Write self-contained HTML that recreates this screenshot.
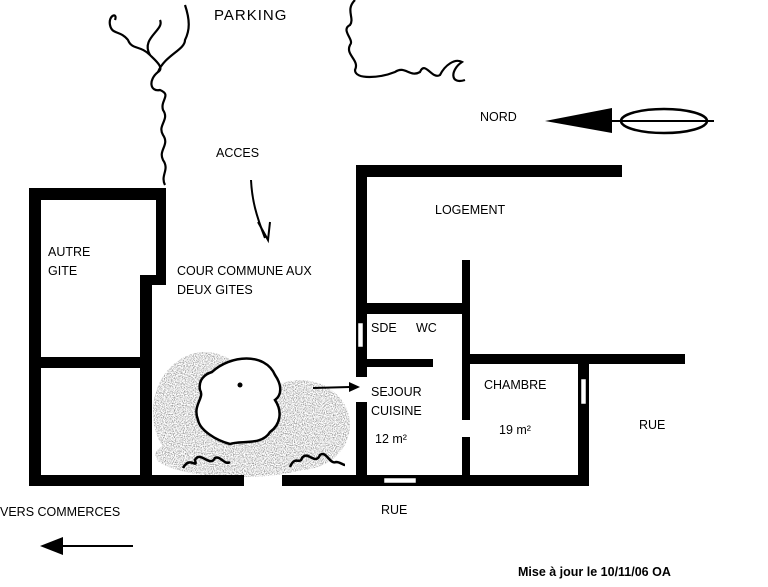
<!DOCTYPE html>
<html><head><meta charset="utf-8"><style>
body{margin:0;background:#fff;width:768px;height:587px;overflow:hidden}
svg{position:absolute;left:0;top:0}
text{font-family:"Liberation Sans",sans-serif;font-size:12.5px;fill:#000}
</style></head><body>
<svg width="768" height="587" viewBox="0 0 768 587">
<defs>
<filter id="n" filterUnits="userSpaceOnUse" x="0" y="0" width="768" height="587"><feTurbulence type="fractalNoise" baseFrequency="0.9" numOctaves="2" seed="3"/><feColorMatrix values="0 0 0 0 0  0 0 0 0 0  0 0 0 0 0  0 0 0 -2.2 1.3"/><feComposite in2="SourceGraphic" operator="in"/></filter>
</defs>
<g opacity="0.55" filter="url(#n)">
<ellipse cx="205" cy="412" rx="52" ry="60" fill="#888"/>
<ellipse cx="300" cy="425" rx="50" ry="45" fill="#888"/>
<ellipse cx="240" cy="455" rx="85" ry="22" fill="#888"/>
</g>
<path d="M212,372 C230,355 265,352 275,375 C282,385 282,395 275,400 C283,412 280,425 270,432 C262,446 240,440 230,444 C215,440 200,430 198,420 C192,405 205,398 200,390 C198,380 205,374 212,372Z" fill="#fff" stroke="#000" stroke-width="2.5"/>
<circle cx="240" cy="385" r="2.5" fill="#000"/>
<path d="M183,468 C190,455 198,470 195,460 C200,450 210,468 215,458 C220,455 225,466 230,462" fill="none" stroke="#000" stroke-width="2.5"/>
<path d="M290,467 C295,455 300,465 302,458 C308,450 315,466 320,455 C326,450 330,465 336,462 C340,462 343,465 345,465" fill="none" stroke="#000" stroke-width="2.5"/>
<g fill="#000">
<rect x="29" y="188" width="137" height="12"/>
<rect x="29" y="188" width="12" height="298"/>
<rect x="156" y="188" width="10" height="97"/>
<rect x="140" y="275" width="26" height="10"/>
<rect x="140" y="275" width="12" height="211"/>
<rect x="29" y="357" width="123" height="11"/>
<rect x="29" y="475" width="215" height="11"/>
<rect x="282" y="475" width="307" height="11"/>
<rect x="356" y="165" width="266" height="12"/>
<rect x="356" y="165" width="11" height="212"/>
<rect x="356" y="402" width="11" height="84"/>
<rect x="356" y="303" width="114" height="11"/>
<rect x="462" y="260" width="8" height="160"/>
<rect x="462" y="437" width="8" height="49"/>
<rect x="356" y="359" width="77" height="8"/>
<rect x="462" y="354" width="223" height="10"/>
<rect x="578" y="354" width="11" height="132"/>
</g>
<g fill="#fff" stroke="#000" stroke-width="0.5">
<rect x="358" y="323" width="5" height="24"/>
<rect x="581" y="379" width="5" height="25"/>
<rect x="384" y="478" width="32" height="5"/>
</g>
<g fill="none" stroke="#000" stroke-width="2.2">
<path d="M165,185 C160,175 170,170 163,160 C158,150 170,145 163,135 C157,125 170,120 163,110 C160,100 172,95 160,90 C150,92 148,80 158,72 C165,68 155,60 150,55 C140,45 132,50 128,40 C120,30 112,35 110,25 C108,15 118,12 115,20"/>
<path d="M158,72 C165,55 185,50 185,40 C190,30 190,20 185,5"/>
<path d="M150,55 C140,38 165,30 160,20"/>
<path d="M355,0 C345,10 355,18 350,25 C340,30 355,40 350,45 C345,55 360,60 355,70 C355,80 380,78 395,72 C405,65 410,78 420,72 C425,60 432,80 440,75 C445,65 455,58 462,62 C450,70 450,85 465,80"/>
</g>
<path d="M251,180 C252,200 256,215 265,238" fill="none" stroke="#000" stroke-width="2"/>
<path d="M258,222 L268,240 L270,222" fill="none" stroke="#000" stroke-width="2"/>
<line x1="313" y1="388" x2="350" y2="387" stroke="#000" stroke-width="2"/>
<path d="M349,382 L360,387 L349,392Z" fill="#000"/>
<path d="M545,121 L612,108 L612,133Z" fill="#000"/>
<line x1="610" y1="121" x2="714" y2="121" stroke="#000" stroke-width="2"/>
<ellipse cx="664" cy="121" rx="43" ry="12" fill="none" stroke="#000" stroke-width="2.5"/>
<line x1="60" y1="546" x2="133" y2="546" stroke="#000" stroke-width="2"/>
<path d="M40,546 L63,537 L63,555Z" fill="#000"/>
<text x="214" y="20" style="font-size:15px;letter-spacing:1px">PARKING</text>
<text x="480" y="121">NORD</text>
<text x="216" y="157">ACCES</text>
<text x="435" y="214">LOGEMENT</text>
<text x="48" y="256">AUTRE</text>
<text x="48" y="275">GITE</text>
<text x="177" y="275">COUR COMMUNE AUX</text>
<text x="177" y="294">DEUX GITES</text>
<text x="371" y="332">SDE</text>
<text x="416" y="332">WC</text>
<text x="371" y="396">SEJOUR</text>
<text x="371" y="415">CUISINE</text>
<text x="375" y="443">12 m²</text>
<text x="484" y="389">CHAMBRE</text>
<text x="499" y="434">19 m²</text>
<text x="639" y="429">RUE</text>
<text x="0" y="516">VERS COMMERCES</text>
<text x="381" y="514">RUE</text>
<text x="518" y="576" style="font-weight:bold">Mise à jour le 10/11/06 OA</text>
</svg>
</body></html>
